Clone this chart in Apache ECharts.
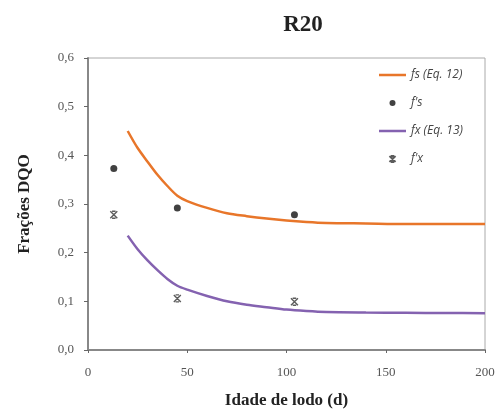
<!DOCTYPE html>
<html><head><meta charset="utf-8">
<script src="https://cdn.jsdelivr.net/npm/echarts@6/dist/echarts.min.js"></script>
<style>html,body{margin:0;padding:0;background:#fff}#c{width:502px;height:414px}</style>
</head><body><div id="c"></div>
<script>
// Curve fs (Eq. 12)
const fsX = [20, 25, 30, 35, 40, 45, 50, 60, 70, 80, 90, 100, 110, 120, 140, 160, 180, 200];
const fsY = [0.45, 0.415, 0.387, 0.36, 0.337, 0.317, 0.306, 0.292, 0.281, 0.275, 0.27, 0.266, 0.263, 0.261, 0.26, 0.259, 0.259, 0.259];
// Curve fx (Eq. 13)
const fxX = [20, 25, 30, 35, 40, 45, 50, 60, 70, 80, 90, 100, 110, 120, 140, 160, 180, 200];
const fxY = [0.235, 0.207, 0.184, 0.164, 0.146, 0.132, 0.124, 0.111, 0.1, 0.093, 0.088, 0.083, 0.08, 0.078, 0.077, 0.0765, 0.076, 0.0755];
// Measured points
const fsObsX = [13, 45, 104];
const fsObsY = [0.373, 0.292, 0.278];
const fxObsX = [13, 45, 104];
const fxObsY = [0.278, 0.106, 0.099];
const seriesNames = ['fs (Eq. 12)', "f's", 'fx (Eq. 13)', "f'x"];
const xTicks = [0, 50, 100, 150, 200];
const yTicks = [0, 0.1, 0.2, 0.3, 0.4, 0.5, 0.6];

const zip = (a, b) => a.map((v, i) => [v, b[i]]);
const serif = '"Liberation Serif", "DejaVu Serif", serif';
const lineIcon = 'path://M0,0L0.01,0L0,0.01Z M0,3.6L54,3.6L54,8.4L0,8.4Z M0,12L0.01,12L0,11.99Z M54,0L53.99,0L54,0.01Z';
const xMark = 'path://M0,0L10,10M10,0L0,10M2.5,0L7.5,0M2.5,10L7.5,10';
const chart = echarts.init(document.getElementById('c'), null, {renderer: 'canvas'});
chart.setOption({
  animation: false,
  backgroundColor: '#fff',
  title: {
    text: 'R20', left: 298, top: 9, textAlign: 'center',
    textStyle: {fontFamily: serif, fontWeight: 'bold', fontSize: 23, color: '#222'}
  },
  grid: {left: 88, top: 58, right: 17, bottom: 62, show: true, borderColor: '#aaa', borderWidth: 1},
  legend: {
    orient: 'vertical', left: 379, top: 69, padding: 0, itemGap: 16,
    itemWidth: 27, itemHeight: 6,
    textStyle: {fontFamily: '"Open Sans", Lato, sans-serif', fontStyle: 'italic', fontSize: 12, color: '#444'},
    data: [
      {name: seriesNames[0], icon: lineIcon},
      {name: seriesNames[1]},
      {name: seriesNames[2], icon: lineIcon},
      {name: seriesNames[3]}
    ]
  },
  xAxis: {
    type: 'value', min: xTicks[0], max: xTicks[xTicks.length - 1], interval: 50,
    name: 'Idade de lodo (d)', nameLocation: 'middle', nameGap: 42,
    nameTextStyle: {fontFamily: serif, fontWeight: 'bold', fontSize: 17, color: '#222'},
    axisLine: {lineStyle: {color: '#888', width: 2}},
    axisTick: {show: true, length: 3, lineStyle: {color: '#666'}},
    axisLabel: {fontFamily: serif, fontSize: 13, color: '#555', margin: 16},
    splitLine: {show: false}
  },
  yAxis: {
    type: 'value', min: yTicks[0], max: yTicks[yTicks.length - 1], interval: 0.1,
    name: 'Frações DQO', nameLocation: 'middle', nameGap: 55,
    nameTextStyle: {fontFamily: serif, fontWeight: 'bold', fontSize: 17, color: '#222'},
    axisLine: {show: true, lineStyle: {color: '#888', width: 2}},
    axisTick: {show: true, length: 4, lineStyle: {color: '#666'}},
    axisLabel: {fontFamily: serif, fontSize: 13, color: '#555', margin: 14,
      formatter: v => v.toFixed(1).replace('.', ',')},
    splitLine: {show: false}
  },
  series: [
    {name: seriesNames[0], type: 'line', data: zip(fsX, fsY), smooth: 0.3, showSymbol: false, symbol: 'none',
     lineStyle: {color: '#E8762A', width: 2.5}, itemStyle: {color: '#E8762A'}},
    {name: seriesNames[1], type: 'scatter', data: zip(fsObsX, fsObsY), symbol: 'circle', symbolSize: 7,
     itemStyle: {color: '#111'}},
    {name: seriesNames[2], type: 'line', data: zip(fxX, fxY), smooth: 0.3, showSymbol: false, symbol: 'none',
     lineStyle: {color: '#8462B0', width: 2.5}, itemStyle: {color: '#8462B0'}},
    {name: seriesNames[3], type: 'scatter', data: zip(fxObsX, fxObsY), symbol: xMark, symbolSize: 7,
     itemStyle: {color: 'rgba(0,0,0,0)', borderColor: '#333', borderWidth: 1.4}}
  ]
});
</script></body></html>
